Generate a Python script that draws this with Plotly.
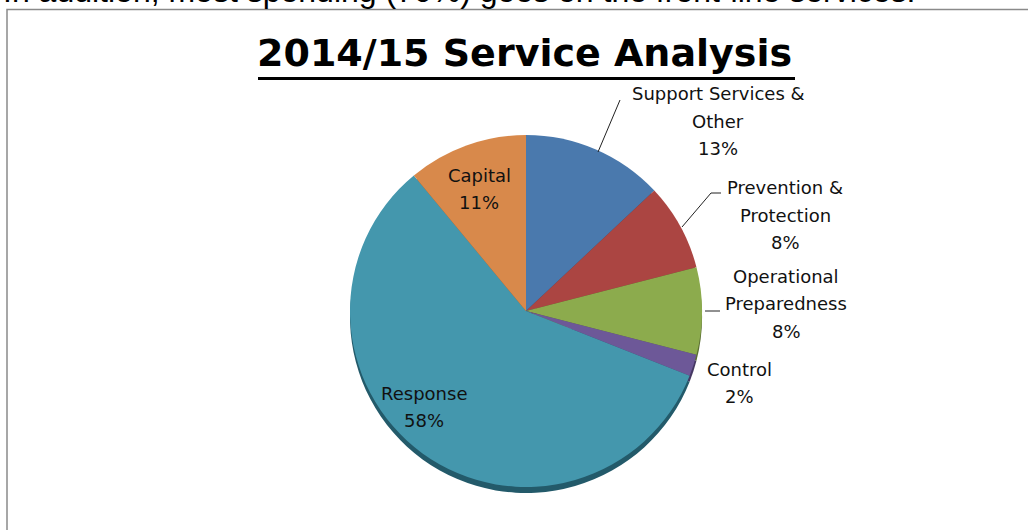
import plotly.graph_objects as go

# ---- data ----
categories = ["Support Services & Other", "Prevention & Protection",
              "Operational Preparedness", "Control", "Response", "Capital"]
percent_values = [13, 8, 8, 2, 58, 11]
title_text = "2014/15 Service Analysis"
intro_text = "In addition, most spending (70%) goes on the front-line services."

# ---- style ----
W, H = 1028, 530
slice_colors = ["#4a79ad", "#ab4542", "#8cab4d", "#6d5898", "#4497ad", "#d8894b"]
rim_colors = ["#2d4c70", "#6e2b2a", "#5a6e31", "#463863", "#235a6a", "#8c5630"]
label_wrap = {
    "Support Services & Other": ["Support Services &", "Other"],
    "Prevention & Protection": ["Prevention &", "Protection"],
    "Operational Preparedness": ["Operational", "Preparedness"],
}
# first-line centre of each label block, in pixels
label_pos = {
    "Support Services & Other": (718, 93.5),
    "Prevention & Protection": (785, 187.5),
    "Operational Preparedness": (786, 276),
    "Control": (739, 369),
    "Response": (424, 393),
    "Capital": (479, 175),
}
line_step = 27.5
leader_lines = [
    [(598, 152), (620, 100)],
    [(682, 227), (711, 193), (721, 193)],
    [(705, 311), (720, 311)],
]


def px(x):
    return x / W


def py(y):
    return 1 - y / H


pie_x = [px(350), px(702)]
pie_y = [py(487), py(135)]
rim_y = [py(493), py(141)]

fig = go.Figure()
# 3-D rim (same slices, shifted down)
fig.add_trace(go.Pie(
    labels=categories, values=percent_values, sort=False, direction="clockwise",
    rotation=0, textinfo="none", hoverinfo="skip", showlegend=False,
    marker=dict(colors=rim_colors, line=dict(width=0)),
    domain=dict(x=pie_x, y=rim_y),
))
fig.add_trace(go.Pie(
    labels=categories, values=percent_values, sort=False, direction="clockwise",
    rotation=0, textinfo="none", showlegend=False,
    marker=dict(colors=slice_colors, line=dict(width=0)),
    domain=dict(x=pie_x, y=pie_y),
))

annotations = []
for cat, val in zip(categories, percent_values):
    lines = label_wrap.get(cat, [cat]) + [f"{val}%"]
    cx, cy = label_pos[cat]
    for i, ln in enumerate(lines):
        annotations.append(dict(
            text=ln, x=px(cx), y=py(cy + i * line_step), xref="paper", yref="paper",
            xanchor="center", yanchor="middle", showarrow=False,
            font=dict(family="DejaVu Sans", size=18, color="#111111"),
        ))

annotations.append(dict(
    text=f"<b>{title_text}</b>", x=px(524), y=py(53), xref="paper", yref="paper",
    xanchor="center", yanchor="middle", showarrow=False,
    font=dict(family="DejaVu Sans", size=38, color="#000000"),
))
annotations.append(dict(
    text=intro_text, x=px(1), y=py(-9.5), xref="paper", yref="paper",
    xanchor="left", yanchor="middle", showarrow=False,
    font=dict(family="Liberation Sans", size=32, color="#000000"),
))

shapes = [
    dict(type="rect", xref="paper", yref="paper", x0=px(7), x1=px(1040),
         y0=py(545), y1=py(9.5), line=dict(color="#8a8a8a", width=1.5),
         fillcolor="rgba(0,0,0,0)", layer="below"),
    dict(type="line", xref="paper", yref="paper", x0=px(258), x1=px(795),
         y0=py(78.5), y1=py(78.5), line=dict(color="#000000", width=3)),
]
for pts in leader_lines:
    for (x0, y0), (x1, y1) in zip(pts[:-1], pts[1:]):
        shapes.append(dict(type="line", xref="paper", yref="paper",
                           x0=px(x0), y0=py(y0), x1=px(x1), y1=py(y1),
                           line=dict(color="#222222", width=1)))

fig.update_layout(
    width=W, height=H, margin=dict(l=0, r=0, t=0, b=0),
    paper_bgcolor="#ffffff", plot_bgcolor="#ffffff",
    annotations=annotations, shapes=shapes, showlegend=False,
)

fig.write_html("out.html")
